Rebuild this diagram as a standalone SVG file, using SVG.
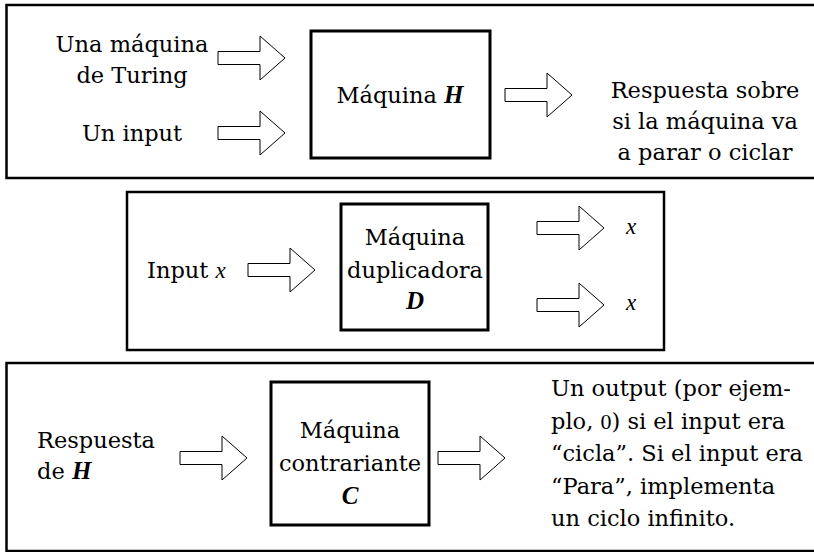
<svg xmlns="http://www.w3.org/2000/svg" width="814" height="552" viewBox="0 0 814 552">
<style>
.panel{fill:none;stroke:#000;stroke-width:2.5}
.box{fill:#fff;stroke:#000;stroke-width:3}
.arrow{fill:#fff;stroke:#000;stroke-width:1}
text{font-family:"DejaVu Serif","Liberation Serif",serif;font-size:22.5px;fill:#000}
.c{text-anchor:middle}
.m{font-family:"Liberation Serif",serif;font-style:italic;font-size:23px}
.mb{font-family:"Liberation Serif",serif;font-style:italic;font-weight:bold;font-size:25px}
.m0{font-family:"Liberation Serif",serif;font-size:22px}
</style>
<defs>
<path id="arr" d="M0,-6.5 H42 V-22 L67,0 L42,22 V6.5 H0 Z"/>
</defs>
<rect x="6.5" y="5" width="830" height="173" class="panel"/>
<rect x="127" y="192" width="537" height="158" class="panel"/>
<rect x="6.5" y="363" width="830" height="188" class="panel"/>
<g id="connectors">
<use href="#arr" x="218" y="58" class="arrow"/>
<use href="#arr" x="218" y="133" class="arrow"/>
<use href="#arr" x="505" y="95" class="arrow"/>
<use href="#arr" x="248" y="270" class="arrow"/>
<use href="#arr" x="537" y="228" class="arrow"/>
<use href="#arr" x="537" y="305" class="arrow"/>
<use href="#arr" x="180" y="458" class="arrow"/>
<use href="#arr" x="438" y="458" class="arrow"/>
</g>
<g id="in-machine">
<text x="132" y="52" class="c">Una máquina</text>
<text x="132" y="83" class="c">de Turing</text>
</g>
<g id="in-input"><text x="132" y="141" class="c">Un input</text></g>
<g id="machine-H">
<rect x="311" y="31" width="179" height="127" class="box"/>
<text x="400" y="103" class="c">Máquina <tspan class="mb">H</tspan></text>
</g>
<g id="out-H">
<text x="705" y="98" class="c">Respuesta sobre</text>
<text x="705" y="129" class="c">si la máquina va</text>
<text x="705" y="160" class="c">a parar o ciclar</text>
</g>
<g id="in-x"><text x="147" y="278">Input <tspan class="m">x</tspan></text></g>
<g id="machine-D">
<rect x="341" y="204" width="147" height="126" class="box"/>
<text x="415" y="245" class="c">Máquina</text>
<text x="415" y="278" class="c">duplicadora</text>
<text x="415" y="309" class="c mb">D</text>
</g>
<g id="out-x1"><text x="626" y="234" class="m">x</text></g>
<g id="out-x2"><text x="626" y="310" class="m">x</text></g>
<g id="in-resp">
<text x="37" y="448">Respuesta</text>
<text x="37" y="479">de <tspan class="mb">H</tspan></text>
</g>
<g id="machine-C">
<rect x="271" y="382" width="158" height="143" class="box"/>
<text x="350" y="438" class="c">Máquina</text>
<text x="350" y="471" class="c">contrariante</text>
<text x="350" y="504" class="c mb">C</text>
</g>
<g id="out-C">
<text x="551" y="396">Un output (por ejem-</text>
<text x="551" y="429">plo, <tspan class="m0">0</tspan>) si el input era</text>
<text x="551" y="461">“cicla”. Si el input era</text>
<text x="551" y="494">“Para”, implementa</text>
<text x="551" y="526">un ciclo infinito.</text>
</g>
</svg>
